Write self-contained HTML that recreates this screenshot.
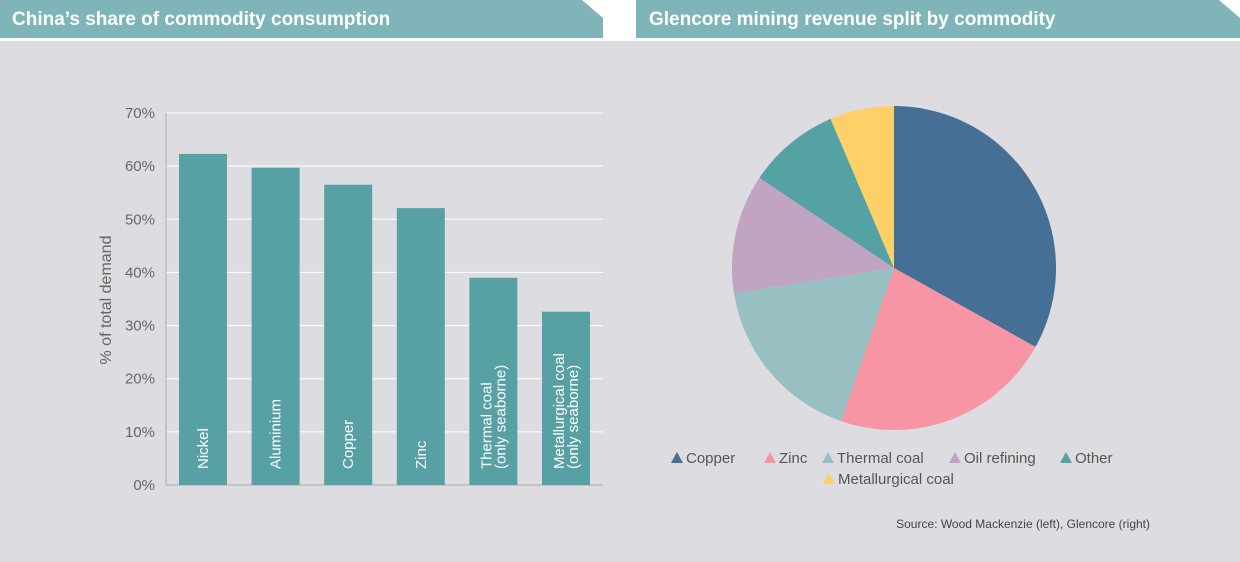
<!DOCTYPE html>
<html><head><meta charset="utf-8"><style>
body{margin:0;width:1240px;height:562px;background:#dddce1;font-family:"Liberation Sans",sans-serif;overflow:hidden}
svg{display:block}
</style></head><body>
<svg width="1240" height="562">
<rect x="0" y="0" width="1240" height="41" fill="#ffffff"/>
<polygon points="0,0 582,0 603,18 603,38 0,38" fill="#7fb5b8"/>
<polygon points="636,0 1219,0 1240,18 1240,38 636,38" fill="#7fb5b8"/>
<text x="12" y="25" fill="#fff" font-size="19" font-weight="bold">China’s share of commodity consumption</text>
<text x="649" y="25" fill="#fff" font-size="19" font-weight="bold">Glencore mining revenue split by commodity</text>
<g id="bars"></g>
<g id="pie"></g>
<text x="1150" y="528" text-anchor="end" font-size="12" fill="#444">Source: Wood Mackenzie (left), Glencore (right)</text>
</svg>
<script>
const categories=["Nickel","Aluminium","Copper","Zinc","Thermal coal|(only seaborne)","Metallurgical coal|(only seaborne)"];
const values=[62.3,59.7,56.5,52.1,39.0,32.6];
const yTicks=[0,10,20,30,40,50,60,70];
const pieLabels=["Copper","Zinc","Thermal coal","Oil refining","Other","Metallurgical coal"];
const pieValues=[33.1,22.2,17.2,11.9,9.2,6.4];
const pieColors=["#466f95","#f895a4","#98c0c3","#c1a3c2","#55a2a5","#fdd167"];
const NS="http://www.w3.org/2000/svg";
function mk(t,a,p){const e=document.createElementNS(NS,t);for(const k in a)e.setAttribute(k,a[k]);p.appendChild(e);return e;}
const bg=document.getElementById('bars');
const y0=485,y1=113,vmax=70;
const y=v=>y0-(v/vmax)*(y0-y1);
const x0=166,x1=603,band=72.6;
const bx=i=>179+band*i,bw=48;
yTicks.forEach(t=>{
 if(t>0){const l=mk('line',{x1:x0,x2:x1,y1:y(t),y2:y(t),stroke:'#fff','stroke-width':1},bg);
 
 }
 const tx=mk('text',{x:155,y:y(t)+5,'text-anchor':'end','font-size':15,fill:'#666'},bg);tx.textContent=t+'%';
 
 
});
const ax=mk('line',{x1:x0,x2:x0,y1:y1,y2:y0,stroke:'#aaa'},bg);


const bl=mk('line',{x1:x0,x2:x1,y1:y0,y2:y0,stroke:'#aaa'},bg);


const yt=mk('text',{x:0,y:0,transform:'translate(111,300) rotate(-90)','text-anchor':'middle','font-size':16,fill:'#666'},bg);yt.textContent='% of total demand';


categories.forEach((c,i)=>{
 const r=mk('rect',{x:bx(i),y:y(values[i]),width:bw,height:y0-y(values[i]),fill:'#57a1a4'},bg);
 
 
 const lines=c.split('|');const cx=bx(i)+bw/2;
 lines.forEach((s,j)=>{
  const off=(j-(lines.length-1)/2)*14;
  const t=mk('text',{x:0,y:0,transform:`translate(${cx+off+5},${y0-16}) rotate(-90)`,'font-size':15,fill:'#fff'},bg);t.textContent=s;
  
  
 });
});
const pg=document.getElementById('pie');
const cx=894,cy=268,R=162;const tot=pieValues.reduce((a,b)=>a+b,0);let a=0;
pieValues.forEach((v,i)=>{
 const a2=a+v/tot*2*Math.PI;
 const p=(t)=>[cx+R*Math.sin(t),cy-R*Math.cos(t)];
 const [sx,sy]=p(a),[ex,ey]=p(a2);
 const s=mk('path',{d:`M${cx},${cy}L${sx},${sy}A${R},${R} 0 ${a2-a>Math.PI?1:0} 1 ${ex},${ey}Z`,fill:pieColors[i]},pg);
 
 
 a=a2;
});
const lx=[671,764,822,949,1060,823],ly=[457,457,457,457,457,478];
pieLabels.forEach((l,i)=>{
 const g=mk('g',{},pg);
 
 
 mk('polygon',{points:`${lx[i]},${ly[i]+6} ${lx[i]+12},${ly[i]+6} ${lx[i]+6},${ly[i]-5}`,fill:pieColors[i]},g);
 const t=mk('text',{x:lx[i]+15,y:ly[i]+6,'font-size':15,fill:'#555'},g);t.textContent=l;
});
</script>
</body></html>
